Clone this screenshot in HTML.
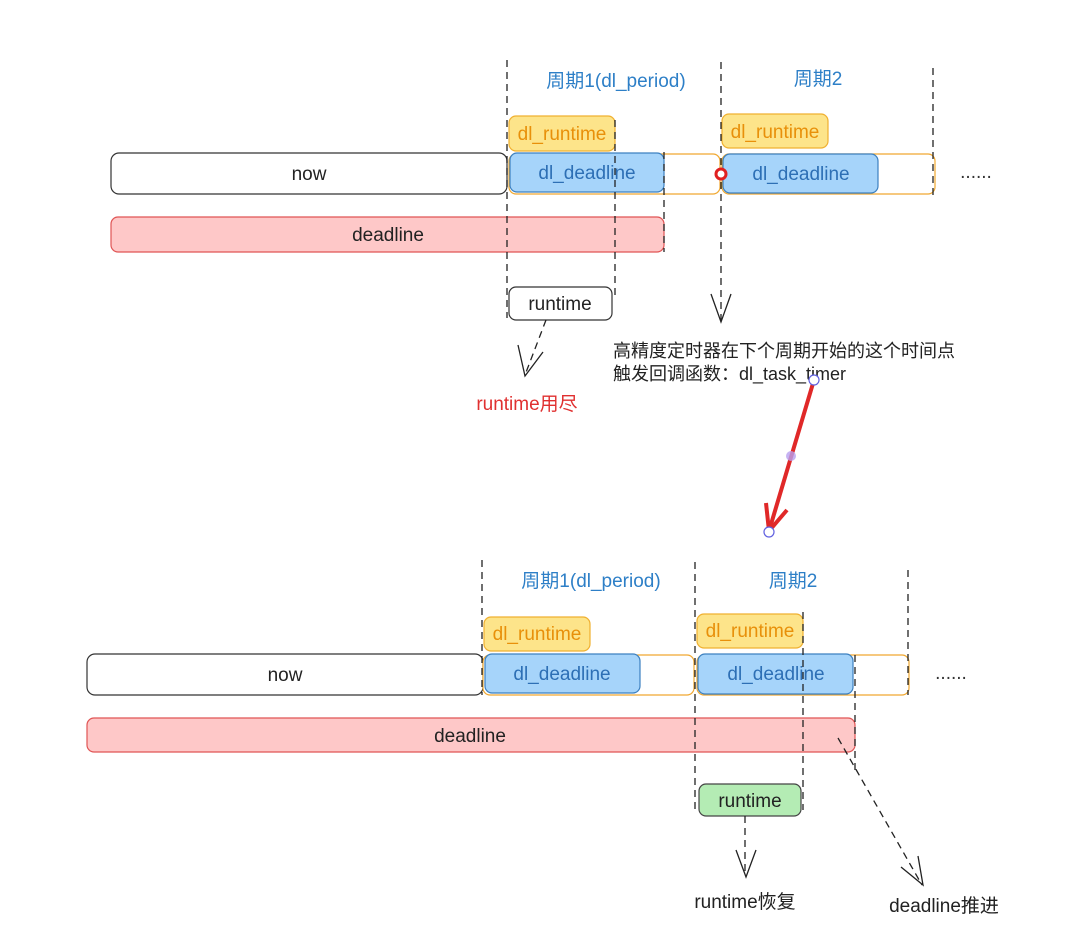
<!DOCTYPE html>
<html><head><meta charset="utf-8"><style>
html,body{margin:0;padding:0;background:#fff;}
svg{display:block;}
text{font-family:"Liberation Sans","Noto Sans CJK SC",sans-serif;}
</style></head><body>
<svg width="1080" height="929" viewBox="0 0 1080 929" xmlns="http://www.w3.org/2000/svg">
<rect width="1080" height="929" fill="#fff"/>
<!-- TOP -->
<g font-size="19" text-anchor="middle">
<text x="616" y="87" fill="#2d7fc7">周期1(dl_period)</text>
<text x="818" y="85" fill="#2d7fc7">周期2</text>
<rect x="111" y="153" width="396" height="41" rx="8" fill="#fff" stroke="#333" stroke-width="1.2"/>
<text x="309" y="180" fill="#222">now</text>
<rect x="509" y="154" width="211" height="40" rx="7" fill="#fff" stroke="#f0a830" stroke-width="1.2"/>
<rect x="722" y="154" width="213" height="40" rx="7" fill="#fff" stroke="#f0a830" stroke-width="1.2"/>
<rect x="509" y="116" width="106" height="35" rx="7" fill="#fde48a" stroke="#f0b030" stroke-width="1.2"/>
<text x="562" y="140" fill="#e8900a">dl_runtime</text>
<rect x="722" y="114" width="106" height="34" rx="7" fill="#fde48a" stroke="#f0b030" stroke-width="1.2"/>
<text x="775" y="138" fill="#e8900a">dl_runtime</text>
<rect x="510" y="153" width="154" height="39" rx="7" fill="#a6d4fa" stroke="#3c80c0" stroke-width="1.2"/>
<text x="587" y="179" fill="#2d6fb5">dl_deadline</text>
<rect x="723" y="154" width="155" height="39" rx="7" fill="#a6d4fa" stroke="#3c80c0" stroke-width="1.2"/>
<text x="801" y="180" fill="#2d6fb5">dl_deadline</text>
<text x="976" y="178" fill="#333">......</text>
<rect x="111" y="217" width="553" height="35" rx="7" fill="#fec8c8" stroke="#e05555" stroke-width="1.2"/>
<text x="388" y="241" fill="#222">deadline</text>
<rect x="509" y="287" width="103" height="33" rx="7" fill="#fff" stroke="#333" stroke-width="1.2"/>
<text x="560" y="310" fill="#222">runtime</text>
<text x="527" y="410" fill="#e03030">runtime用尽</text>
</g>
<g stroke="#222" stroke-width="1.3" stroke-dasharray="7,5" fill="none">
<line x1="507" y1="60" x2="507" y2="318"/>
<line x1="615" y1="120" x2="615" y2="300"/>
<line x1="664" y1="152" x2="664" y2="252"/>
<line x1="721" y1="62" x2="721" y2="320"/>
<line x1="933" y1="68" x2="933" y2="195"/>
<line x1="546" y1="320" x2="525" y2="375"/>
</g>
<g stroke="#222" stroke-width="1.3" fill="none">
<polyline points="711,294 721,322 731,294"/>
<polyline points="518,345 525,376 543,352"/>
</g>
<circle cx="721" cy="174" r="5" fill="#fff" stroke="#e02020" stroke-width="3"/>
<g font-size="18" fill="#222">
<text x="613" y="357">高精度定时器在下个周期开始的这个时间点</text>
<text x="613" y="380">触发回调函数：dl_task_timer</text>
</g>
<line x1="814" y1="380" x2="769" y2="531" stroke="#e02828" stroke-width="4"/>
<polyline points="766,503 769,531 787,510" stroke="#e02828" stroke-width="4" fill="none"/>
<circle cx="791" cy="456" r="5" fill="#b8a0f0" opacity="0.8"/>
<circle cx="814" cy="380" r="5" fill="#fff" stroke="#6060e0" stroke-width="1.2"/>
<circle cx="769" cy="532" r="5" fill="#fff" stroke="#6060e0" stroke-width="1.2"/>
<!-- BOTTOM -->
<g font-size="19" text-anchor="middle">
<text x="591" y="587" fill="#2d7fc7">周期1(dl_period)</text>
<text x="793" y="587" fill="#2d7fc7">周期2</text>
<rect x="87" y="654" width="396" height="41" rx="8" fill="#fff" stroke="#333" stroke-width="1.2"/>
<text x="285" y="681" fill="#222">now</text>
<rect x="483" y="655" width="211" height="40" rx="7" fill="#fff" stroke="#f0a830" stroke-width="1.2"/>
<rect x="697" y="655" width="212" height="40" rx="7" fill="#fff" stroke="#f0a830" stroke-width="1.2"/>
<rect x="484" y="617" width="106" height="34" rx="7" fill="#fde48a" stroke="#f0b030" stroke-width="1.2"/>
<text x="537" y="640" fill="#e8900a">dl_runtime</text>
<rect x="697" y="614" width="106" height="34" rx="7" fill="#fde48a" stroke="#f0b030" stroke-width="1.2"/>
<text x="750" y="637" fill="#e8900a">dl_runtime</text>
<rect x="485" y="654" width="155" height="39" rx="7" fill="#a6d4fa" stroke="#3c80c0" stroke-width="1.2"/>
<text x="562" y="680" fill="#2d6fb5">dl_deadline</text>
<rect x="698" y="654" width="155" height="40" rx="7" fill="#a6d4fa" stroke="#3c80c0" stroke-width="1.2"/>
<text x="776" y="680" fill="#2d6fb5">dl_deadline</text>
<text x="951" y="679" fill="#333">......</text>
<rect x="87" y="718" width="768" height="34" rx="7" fill="#fec8c8" stroke="#e05555" stroke-width="1.2"/>
<text x="470" y="742" fill="#222">deadline</text>
<rect x="699" y="784" width="102" height="32" rx="7" fill="#b4ecb4" stroke="#444" stroke-width="1.2"/>
<text x="750" y="807" fill="#222">runtime</text>
<text x="745" y="908" fill="#222">runtime恢复</text>
<text x="944" y="912" fill="#222">deadline推进</text>
</g>
<g stroke="#222" stroke-width="1.3" stroke-dasharray="7,5" fill="none">
<line x1="482" y1="560" x2="482" y2="695"/>
<line x1="695" y1="562" x2="695" y2="810"/>
<line x1="803" y1="612" x2="803" y2="810"/>
<line x1="855" y1="655" x2="855" y2="770"/>
<line x1="908" y1="570" x2="908" y2="695"/>
<line x1="745" y1="816" x2="745" y2="876"/>
<line x1="838" y1="738" x2="922" y2="885"/>
</g>
<g stroke="#222" stroke-width="1.3" fill="none">
<polyline points="736,850 746,877 756,850"/>
<polyline points="901,867 923,885 918,856"/>
</g>
</svg>
</body></html>
